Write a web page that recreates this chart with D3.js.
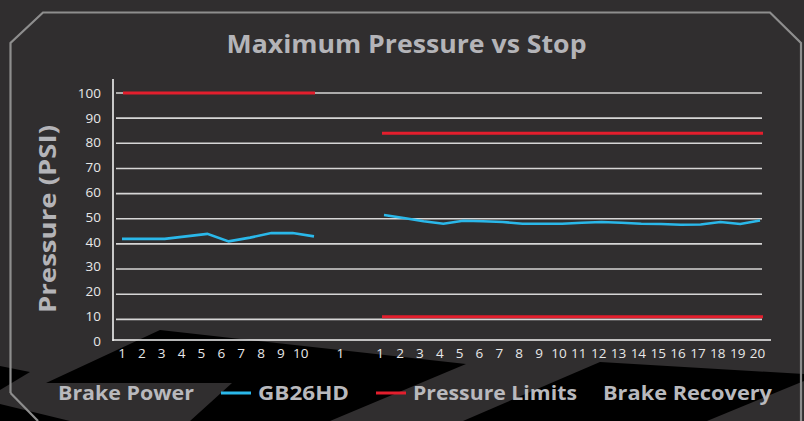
<!DOCTYPE html>
<html>
<head>
<meta charset="utf-8">
<script src="https://cdn.jsdelivr.net/npm/d3@7"></script>
<style>
  html, body { margin: 0; padding: 0; background: #302e2f; }
  svg { display: block; }
</style>
</head>
<body>
<svg id="chart" width="804" height="421"></svg>
<script>
// ---- data ----
const categories = ["1","2","3","4","5","6","7","8","9","10","","1","","1","2","3","4","5","6","7","8","9","10","11","12","13","14","15","16","17","18","19","20"];
const yTicks = [0,10,20,30,40,50,60,70,80,90,100];
const brakePowerStops = [1,2,3,4,5,6,7,8,9,10];
const brakePowerGB26HD = [42,42,42,43,44,41,42.5,44.3,44.3,43];
const brakeRecoveryStops = [1,2,3,4,5,6,7,8,9,10,11,12,13,14,15,16,17,18,19,20];
const brakeRecoveryGB26HD = [51.5,50.3,49,48,49.2,49,48.7,48,48,48,48.4,48.7,48.4,48,47.9,47.6,47.7,48.7,47.9,49.3];
const powerLimits = [100];
const recoveryLimits = [84,11];
const legendItems = ["Brake Power","GB26HD","Pressure Limits","Brake Recovery"];
const title = "Maximum Pressure vs Stop";
const yTitle = "Pressure (PSI)";

// ---- drawing ----
const svg = d3.select("#chart");
const W = 804, H = 421;

// background decorations
const bgShapes = [
  [[160,330],[466,364],[330,421],[190,421],[232,383],[46,383]],
  [[0,366],[30,372],[0,390]],
  [[600,362],[804,374],[804,381],[707,421],[463,421]],
  [[0,404],[70,421],[0,421]]
];
svg.append("rect").attr("width",W).attr("height",H).attr("fill","#302e2f");
svg.selectAll("polygon.bg").data(bgShapes).join("polygon")
  .attr("class","bg").attr("points",d=>d.map(p=>p.join(",")).join(" "))
  .attr("fill","#000");

// frame
svg.append("path")
  .attr("d","M10.5,393 L10.5,43 L43,12.5 L770,12.5 L801,43 L801,421")
  .attr("fill","none").attr("stroke","#8e8e8e").attr("stroke-width",2.2);
svg.append("path")
  .attr("d","M10.5,393 L38,421")
  .attr("fill","none").attr("stroke","#8e8e8e").attr("stroke-width",2.2);

// title
svg.append("text").attr("x",406.5).attr("y",53).attr("text-anchor","middle")
  .attr("font-family","'Open Sans', sans-serif").attr("font-weight","bold")
  .attr("font-size",25).attr("fill","#b4b4b8")
  .attr("textLength",360).attr("lengthAdjust","spacingAndGlyphs")
  .text(title);

// scales
const y = d3.scaleLinear().domain([0,100]).range([344.5,93]);
const x = d3.scalePoint().domain(d3.range(categories.length)).range([121.5,757]);
const xPower = d3.scaleLinear().domain([1,10]).range([122,314]);
const xRecovery = d3.scaleLinear().domain([1,20]).range([384,760]);

// gridlines
svg.append("g").selectAll("line").data(yTicks.filter(d=>d>0)).join("line")
  .attr("x1",116).attr("x2",762).attr("y1",d=>y(d)).attr("y2",d=>y(d))
  .attr("stroke","#d6d6d6").attr("stroke-width",1.6);

// y axis
const yAxis = svg.append("g").attr("transform","translate(113,0)")
  .call(d3.axisLeft(y).tickValues(yTicks).tickSize(0).tickPadding(12));
yAxis.select(".domain").remove();
yAxis.append("line").attr("x1",0).attr("x2",0).attr("y1",79).attr("y2",341)
  .attr("stroke","#f2f2f2").attr("stroke-width",1.6);
yAxis.selectAll(".tick text").attr("fill","#e8e8e8")
  .attr("font-family","'Open Sans', sans-serif").attr("font-size",13.5)
  .attr("dy","0.32em")
  .attr("y",d=>-(100-d)*0.035);

// x axis
const xAxis = svg.append("g").attr("transform","translate(0,340)")
  .call(d3.axisBottom(x).tickFormat(i=>categories[i]).tickSize(0).tickPadding(6));
xAxis.select(".domain").remove();
xAxis.append("line").attr("x1",112.5).attr("x2",771).attr("y1",0).attr("y2",0)
  .attr("stroke","#f2f2f2").attr("stroke-width",1.6);
xAxis.selectAll(".tick text").attr("fill","#e8e8e8")
  .attr("font-family","'Open Sans', sans-serif").attr("font-size",13.5)
  .attr("dy","0.9em");

// y title
svg.append("text").attr("transform","translate(55.5,219) rotate(-90)")
  .attr("text-anchor","middle")
  .attr("font-family","'Open Sans', sans-serif").attr("font-weight","bold")
  .attr("font-size",24).attr("fill","#b4b4b8")
  .attr("textLength",188).attr("lengthAdjust","spacingAndGlyphs")
  .text(yTitle);

// limit lines
const limitColor = "#e31e2d";
svg.append("g").selectAll("line").data(powerLimits).join("line")
  .attr("x1",xPower(1)+1).attr("x2",xPower(10)+1).attr("y1",d=>y(d)).attr("y2",d=>y(d))
  .attr("stroke",limitColor).attr("stroke-width",3);
svg.append("g").selectAll("line").data(recoveryLimits).join("line")
  .attr("x1",xRecovery(1)-2).attr("x2",xRecovery(20)+3).attr("y1",d=>y(d)).attr("y2",d=>y(d))
  .attr("stroke",limitColor).attr("stroke-width",3);

// data lines
const blue = "#2ab8ea";
svg.append("path").datum(brakePowerStops.map((s,i)=>[s,brakePowerGB26HD[i]]))
  .attr("fill","none").attr("stroke",blue).attr("stroke-width",2.6)
  .attr("d",d3.line().x(d=>xPower(d[0])).y(d=>y(d[1])));
svg.append("path").datum(brakeRecoveryStops.map((s,i)=>[s,brakeRecoveryGB26HD[i]]))
  .attr("fill","none").attr("stroke",blue).attr("stroke-width",2.6)
  .attr("d",d3.line().x(d=>xRecovery(d[0])).y(d=>y(d[1])));

// legend
const legendFont = {family:"'Open Sans', sans-serif", size:19, color:"#b9b9bd"};
const legend = [
  {text:legendItems[0], x:58, w:136, swatch:null},
  {text:legendItems[1], x:258, w:91, swatch:{x1:221,x2:251,color:blue}},
  {text:legendItems[2], x:413, w:164, swatch:{x1:376,x2:406,color:limitColor}},
  {text:legendItems[3], x:603, w:169, swatch:null}
];
const lg = svg.append("g");
legend.forEach(it=>{
  if (it.swatch) lg.append("line").attr("x1",it.swatch.x1).attr("x2",it.swatch.x2)
    .attr("y1",393).attr("y2",393).attr("stroke",it.swatch.color).attr("stroke-width",3);
  lg.append("text").attr("x",it.x).attr("y",400)
    .attr("font-family",legendFont.family).attr("font-weight","bold")
    .attr("font-size",legendFont.size).attr("fill",legendFont.color)
    .attr("textLength",it.w).attr("lengthAdjust","spacingAndGlyphs")
    .text(it.text);
});
</script>
</body>
</html>
